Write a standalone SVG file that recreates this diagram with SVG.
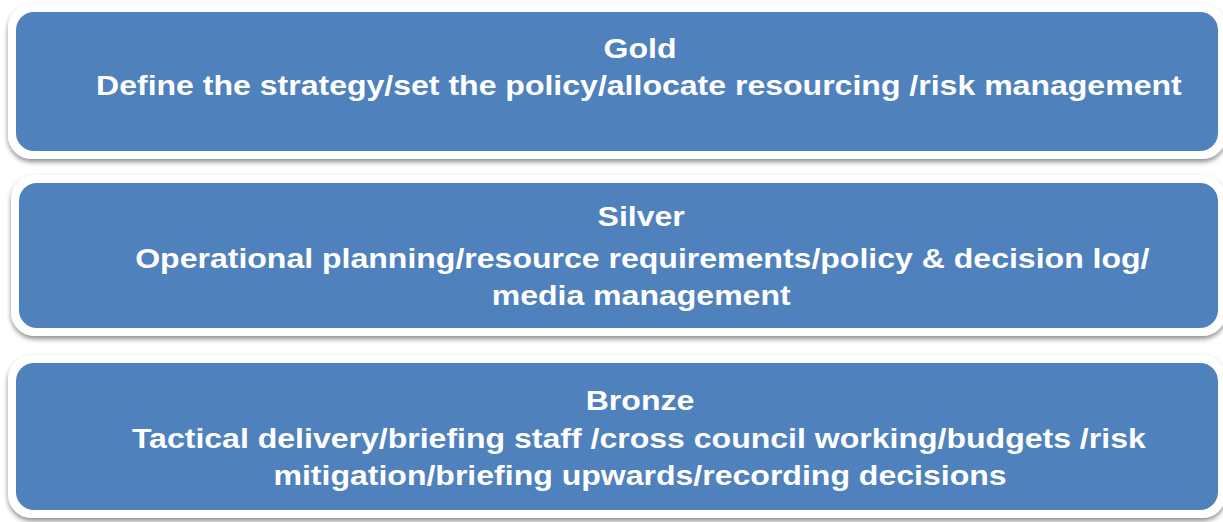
<svg xmlns="http://www.w3.org/2000/svg" width="1223" height="522" viewBox="0 0 1223 522">
  <defs>
    <filter id="shadow" x="-5%" y="-20%" width="110%" height="150%">
      <feGaussianBlur in="SourceAlpha" stdDeviation="2.5"/>
      <feOffset dx="0" dy="3" result="b"/>
      <feComponentTransfer><feFuncA type="linear" slope="0.45"/></feComponentTransfer>
      <feMerge><feMergeNode/><feMergeNode in="SourceGraphic"/></feMerge>
    </filter>
  </defs>
  <style>
    .frame { fill: #ffffff; filter: url(#shadow); }
    .panel { fill: #4f81bd; }
    .label { font-family: "Liberation Sans", Arial, sans-serif; font-weight: bold; font-size: 27.5px; fill: #ffffff; text-anchor: middle; }
  </style>
  <rect width="1223" height="522" fill="#ffffff"/>

  <g id="gold">
    <rect class="frame" x="8" y="4" width="1218" height="155" rx="24"/>
    <rect class="panel" x="16" y="12" width="1202" height="139" rx="18"/>
    <!-- wide lettering: text stretched horizontally about the panel centre -->
    <g transform="translate(640 0) scale(1.165 1)">
      <text class="label" x="0" y="58">Gold</text>
      <text class="label" x="-1" y="95">Define the strategy/set the policy/allocate resourcing /risk management</text>
    </g>
  </g>

  <g id="silver">
    <rect class="frame" x="11" y="175" width="1215" height="161" rx="24"/>
    <rect class="panel" x="19" y="183" width="1199" height="145" rx="18"/>
    <g transform="translate(640 0) scale(1.165 1)">
      <text class="label" x="1" y="226">Silver</text>
      <text class="label" x="2" y="268">Operational planning/resource requirements/policy &amp; decision log/</text>
      <text class="label" x="1" y="305">media management</text>
    </g>
  </g>

  <g id="bronze">
    <rect class="frame" x="8" y="355" width="1218" height="163" rx="24"/>
    <rect class="panel" x="16" y="363" width="1202" height="147" rx="18"/>
    <g transform="translate(640 0) scale(1.165 1)">
      <text class="label" x="0" y="410">Bronze</text>
      <text class="label" x="-1" y="448">Tactical delivery/briefing staff /cross council working/budgets /risk</text>
      <text class="label" x="0" y="485">mitigation/briefing upwards/recording decisions</text>
    </g>
  </g>

  <g id="connectors"/>
</svg>
